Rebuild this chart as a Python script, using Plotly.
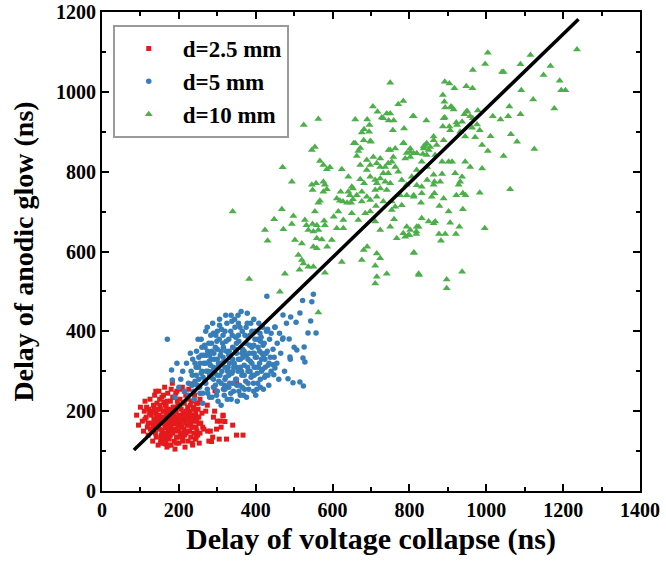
import plotly.graph_objects as go

# ---- data (ns) ----
red_points = [
    (90,190),(95,165),(100,210),(105,175),(108,150),(110,200),(112,225),(115,185),(118,160),(120,140),
    (122,205),(125,230),(126,170),(128,190),(130,150),(132,125),(134,215),(135,180),(137,240),(138,160),
    (140,195),(141,135),(143,220),(145,170),(146,115),(148,250),(149,190),(150,155),(152,205),(153,130),
    (155,175),(156,235),(158,145),(159,200),(160,120),(161,185),(163,260),(164,160),(165,215),(166,140),
    (168,195),(169,110),(170,175),(171,245),(173,150),(174,205),(175,130),(176,185),(178,225),(179,160),
    (180,115),(181,195),(183,270),(184,145),(185,210),(186,170),(188,125),(189,235),(190,185),(191,155),
    (193,200),(194,135),(195,250),(196,175),(198,215),(199,150),(200,120),(201,190),(203,230),(204,165),
    (205,140),(206,205),(208,180),(209,260),(210,130),(211,195),(213,155),(214,220),(215,175),(216,110),
    (218,240),(219,145),(220,190),(221,165),(223,210),(224,125),(225,185),(226,255),(228,150),(229,200),
    (230,170),(231,135),(233,225),(234,160),(235,190),(236,115),(238,210),(239,145),(240,175),(241,240),
    (243,130),(244,195),(245,160),(246,220),(248,185),(249,140),(250,205),(252,170),(253,120),(255,230),
    (156,152),(158,178),(160,135),(161,222),(163,168),(165,118),(167,212),(168,158),(170,188),(172,132),
    (274,215),(186,168),(278,125),(190,198),(282,150),(194,176),(288,135),(198,162),(293,200),(206,142),
    (300,175),(305,130),(310,160),(315,190),(320,174),(324,130),(340,165),(350,140),(367,140),
    (132,200),(138,175),(142,190),(147,160),(151,215),(154,185),(157,170),(162,200),(167,180),(172,165),
    (177,200),(182,180),(187,190),(192,170),(197,185),(202,175),(207,160),(212,185),(217,170),(222,180),
    (227,165),(232,175),(237,160),(242,185),(247,150),(252,185),(257,170),(262,160),(120,170),(126,155),
    (144,205),(158,130),(163,145),(178,140),(186,150),(194,120),(207,145),(211,125),(196,225),(184,235),
    (170,225),(160,240),(150,230),(140,250),(154,140),(166,125),(174,115),(190,105),(200,135),(215,140),
    (225,150),(235,120),(245,135),(255,145),(265,155),(275,150),(285,124),(298,155),(308,175),(315,188),
    (180,255),(192,245),(204,255),(214,250),(224,230),(230,215),(240,205),(250,220),(260,195),(270,200),
    (112,180),(116,210),(124,195),(133,165),(139,145),(146,185),(152,120),(164,185),(171,200),(183,195),
    (188,210),(202,215),(218,200),(228,195),(236,180),(246,175),(136,205),(146,178),(178,172),(290,185),
    (350,270),(294,251),(233,268),
]

blue_points = [
    (170,380),(181,303),(183,278),(195,320),
    (190,235),(200,260),(205,280),(210,300),(215,250),(220,320),(225,270),(230,345),(235,290),(240,230),
    (245,310),(248,265),(250,380),(252,335),(255,245),(258,295),(260,360),(262,220),(265,320),(268,275),
    (270,400),(272,340),(274,255),(276,300),(278,370),(280,235),(282,315),(284,285),(286,350),(288,420),
    (290,260),(292,330),(294,295),(296,390),(298,240),(300,355),(302,310),(304,275),(306,430),(308,340),
    (310,215),(312,300),(314,370),(316,255),(318,325),(320,400),(322,285),(324,350),(326,230),(328,310),
    (330,380),(332,270),(334,335),(336,440),(338,295),(340,360),(342,250),(344,320),(346,410),(348,280),
    (350,345),(352,225),(354,300),(356,375),(358,265),(360,330),(362,450),(364,290),(366,355),(368,240),
    (370,315),(372,390),(374,275),(376,340),(378,420),(380,300),(382,255),(384,365),(386,325),(388,285),
    (390,400),(392,345),(394,270),(396,310),(398,380),(400,240),(402,335),(404,295),(406,360),(408,420),
    (410,320),(412,280),(414,385),(416,345),(418,305),(420,255),(422,370),(424,330),(426,290),(428,400),
    (430,350),(432,315),(434,265),(436,380),(438,335),(440,300),(445,355),(450,410),(455,320),(460,280),
    (465,345),(470,380),(475,300),(480,420),(490,330),(500,360),
    (260,300),(270,320),(280,290),(290,310),(300,330),(310,350),(320,310),(330,340),(340,300),(350,370),
    (360,310),(370,350),(380,330),(390,360),(400,310),(410,350),(420,340),(300,290),(320,280),(340,330),
    (280,340),(310,320),(330,290),(350,310),(370,290),(390,320),(270,270),(290,280),(310,270),(330,260),
    (350,280),(365,260),(385,300),(405,270),(425,310),(255,320),(275,350),(295,360),(315,390),(335,400),
    (355,390),(375,410),(395,430),(345,430),(325,420),(305,380),(285,370),(265,340),(245,290),(235,265),
    (225,240),(238,250),(252,280),(262,245),(318,240),(360,240),(380,270),(300,250),(340,270),(395,250),
    (415,300),(435,320),(405,380),(385,390),(365,400),(355,420),(378,445),(398,400),(418,410),(440,395),
    (232,300),(236,330),(242,275),(246,350),(251,310),(254,260),(259,340),(263,285),(267,365),(271,300),
    (275,245),(279,325),(283,390),(287,300),(291,345),(295,265),(299,375),(303,320),(307,290),(311,405),
    (315,335),(319,265),(323,375),(327,300),(331,350),(335,245),(339,390),(343,310),(347,355),(351,265),
    (355,330),(359,410),(363,300),(367,335),(371,255),(375,370),(379,310),(383,345),(387,420),(391,290),
    (395,365),(399,335),(403,255),(407,310),(411,395),(415,330),(419,365),(423,285),(427,345),(431,405),
    (242,320),(258,380),(274,410),(290,395),(306,415),(322,440),(338,425),(354,440),(286,235),(302,225),
    (320,255),(336,230),(356,250),(376,235),(396,290),(412,260),(432,290),(448,335),(456,370),(462,395),
    (268,360),(284,330),(300,400),(316,360),(332,320),(348,385),(364,345),(380,385),(396,345),(412,375),
    (429,488),(550,493),(546,474),(522,477),(515,446),(491,436),(471,441),(505,423),(543,426),(450,411),
    (536,396),(557,396),(471,383),(487,381),(507,353),(526,361),(489,336),(523,333),(528,323),(445,316),
    (450,308),(447,291),(484,281),(497,271),(515,273),(524,263),
]

green_points = [
    (750,1023),(892,1025),(904,1021),(917,1009),(948,1014),(525,917),(563,932),(659,931),(690,931),(696,917),
    (682,906),(695,900),(705,963),(717,950),(728,936),(741,946),(750,946),(732,934),(771,969),(784,977),
    (809,939),(844,928),(746,928),(759,928),(757,904),(786,908),(887,992),(891,975),(893,961),(911,961),
    (915,956),(892,936),(887,913),(904,913),(554,862),(546,854),(672,859),(655,871),(681,879),(698,877),
    (746,854),(763,858),(785,872),(802,858),(841,867),(854,862),(863,879),(871,867),(889,879),(924,917),
    (948,950),
    (1004,1098),(1115,1092),(1236,1106),(1089,1069),(1167,1065),(997,1070),(965,1055),(1041,1050),(1045,1050),
    (1149,1042),(964,1009),(1191,1028),(1195,1004),(1206,1004),(1091,1004),(1122,981),(1177,958),(1060,963),
    (1057,939),(1037,931),(1089,944),(1017,939),(978,953),(908,963),(950,952),(943,944),(958,939),(965,934),
    (889,934),(906,904),(922,923),(937,925),(976,918),(983,904),(963,910),(1011,889),(1064,894),(1080,875),
    (1125,857),(1045,839),(1004,852),(989,867),(971,886),(945,888),(932,900),(863,888),(811,939),(837,858),
    (850,854),(835,844),(793,847),(811,846),(802,837),(867,842),(885,825),(902,825),(911,825),(846,812),
    (863,792),(885,794),(865,775),(863,767),(880,775),(846,779),(919,796),(937,787),(932,775),(928,767),
    (945,825),(958,812),(989,808),(1062,756),(983,747),(939,746),(946,741),(922,741),(865,746),(858,737),
    (811,741),(830,722),(889,733),(878,714),(902,700),(939,706),(780,716),(867,675),(863,671),(906,672),
    (930,662),(996,658),(793,662),(802,654),(818,650),(824,662),(784,646),(797,641),(818,644),(877,644),
    (893,644),(921,644),(882,627),(812,597),(825,541),(897,530),(937,549),(897,508),
    (470,811),(494,775),(567,827),(576,817),(593,811),(585,806),(624,806),(641,787),(663,839),(667,852),
    (659,871),(700,875),(676,898),(557,771),(546,767),(548,754),(576,775),(580,767),(576,750),(585,756),
    (563,722),(554,700),(567,727),(468,706),(448,681),(498,689),(472,656),(494,669),(528,679),(532,666),
    (548,669),(559,666),(578,677),(580,666),(563,654),(537,654),(550,650),(559,633),(572,630),(502,629),
    (520,620),(550,612),(559,608),(586,612),(598,629),(611,658),(628,658),(603,687),(615,700),(628,679),
    (650,696),(667,679),(619,727),(627,725),(638,722),(648,722),(653,731),(611,733),(621,750),(641,750),
    (653,758),(682,771),(672,781),(676,750),(689,737),(511,591),(520,579),(524,570),(537,562),(550,562),
    (514,554),(476,544),(463,499),(580,547),(624,574),(681,604),(690,612),(676,579),(715,595),(724,583),
    (711,564),(715,537),(711,520),(741,544),(824,544),(811,597),(767,633),(789,637),(800,641),(819,662),
    (832,683),(850,675),(754,704),(763,712),(760,681),(750,662),(724,654),(711,675),(698,700),(713,714),
    (698,787),(711,779),(715,771),(724,783),(737,775),(724,758),(711,754),(732,796),(745,796),(741,754),
    (750,771),(689,804),(698,817),(715,821),(724,812),(737,812),(745,821),(754,825),(763,812),(771,800),
    (780,779),(793,767),(806,787),(819,804),(832,825),(845,842),(837,863),(845,871),(819,846),(802,850),
    (789,833),(784,871),(750,854),(758,837),(724,833),(706,837),(689,829),(672,817),(650,762),(645,741),
    (663,741),(676,725),(698,729),(685,696),(715,737),(732,725),(754,725),(776,741),(793,741),(811,737),
    (832,746),(832,762),(819,766),
    (424,654),(431,627),(563,447),(340,700),(383,531),
]

fit_x = [83, 1240]
fit_y = [103, 1182]

labels = ["d=2.5 mm", "d=5 mm", "d=10 mm"]
colors = ["#E41A1C", "#377EB8", "#4DAF4A"]
symbols = ["square", "circle", "triangle-up"]
sizes = [5, 5.5, 7]

x_ticks = [0, 200, 400, 600, 800, 1000, 1200, 1400]
y_ticks = [0, 200, 400, 600, 800, 1000, 1200]

FONT = "Liberation Serif, Times New Roman, serif"

fig = go.Figure()
for pts, lab, col, sym, sz in zip([red_points, blue_points, green_points], labels, colors, symbols, sizes):
    fig.add_trace(go.Scatter(
        x=[p[0] for p in pts], y=[p[1] for p in pts], mode="markers", name=lab,
        marker=dict(color=col, symbol=sym, size=sz, line=dict(width=0)),
    ))

fig.add_trace(go.Scatter(x=fit_x, y=fit_y, mode="lines", showlegend=False,
                         line=dict(color="black", width=3.5)))

axis_common = dict(
    showline=True, linecolor="black", linewidth=2, mirror="ticks",
    ticks="inside", ticklen=7, tickwidth=2, tickcolor="black",
    showgrid=False, zeroline=False, automargin=False, ticklabeloverflow="allow",
    tickfont=dict(family=FONT, size=20, color="black", weight="bold"),
    minor=dict(ticks="inside", ticklen=4, tickwidth=1.5, tickcolor="black", dtick=100, showgrid=False),
)

fig.update_xaxes(range=[0, 1400], tickvals=x_ticks,
                 title=dict(text="Delay of voltage collapse (ns)", standoff=8,
                            font=dict(family=FONT, size=30, color="black", weight="bold")),
                 **axis_common)
fig.update_yaxes(range=[0, 1200], tickvals=y_ticks,
                 title=dict(text="Delay of anodic glow (ns)", standoff=14,
                            font=dict(family=FONT, size=28, color="black", weight="bold")),
                 **axis_common)

fig.update_layout(
    width=666, height=566,
    margin=dict(l=102, r=26, t=12, b=75),
    paper_bgcolor="white", plot_bgcolor="white",
    legend=dict(x=0.02, y=0.973, xanchor="left", yanchor="top",
                bordercolor="#9a9a9a", borderwidth=2, bgcolor="white",
                font=dict(family=FONT, size=23, color="black", weight="bold"),
                itemwidth=58),
)

# remove the default page margin so the figure fills the window exactly
fig.write_html("out.html", config={"displayModeBar": False},
               post_script="document.body.style.margin='0';document.body.style.padding='0';")
